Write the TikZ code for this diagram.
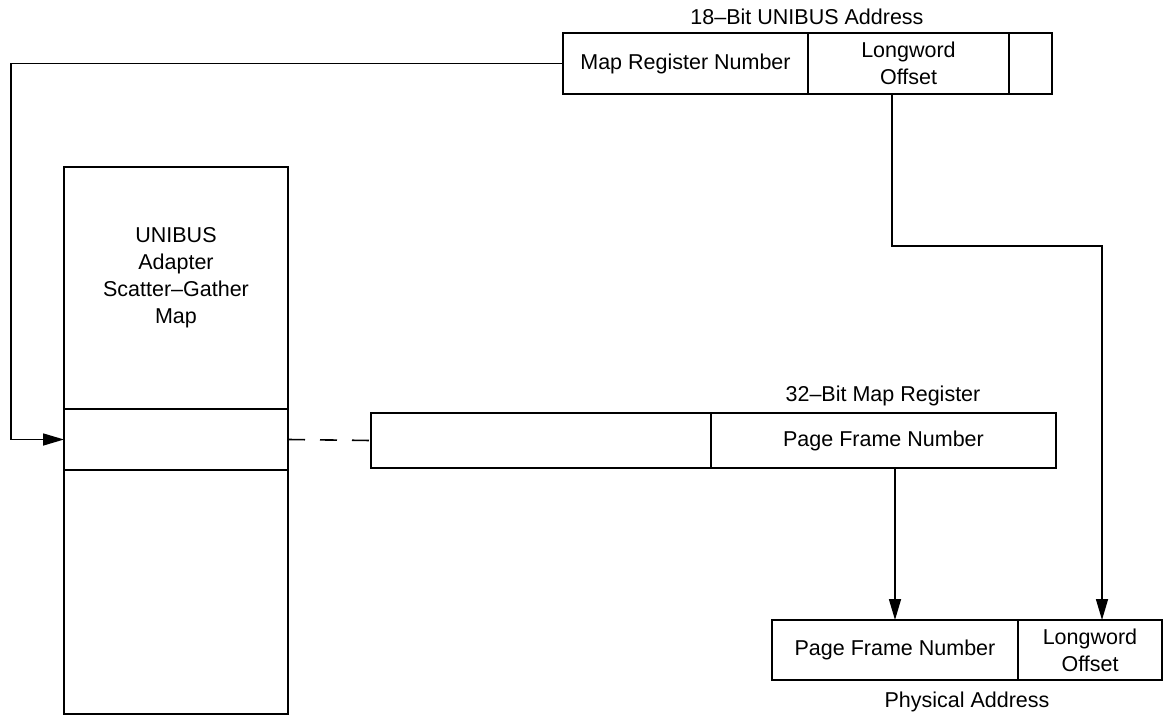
\documentclass[tikz,border=0pt]{standalone}
\usepackage{fontspec}
\setmainfont{Liberation Sans}
\usetikzlibrary{arrows.meta}
\begin{document}
\begin{tikzpicture}[x=1pt,y=-1pt,
  field/.style={draw, line width=1.6pt, inner sep=0pt, outer sep=0pt, align=center, anchor=north west},
  lbl/.style={inner sep=0pt, align=center},
  conn/.style={line width=1.6pt},
  arr/.style={conn, -{Triangle[length=21pt,width=12pt]}},
  every node/.append style={font=\fontsize{21.5}{27}\selectfont}]
\useasboundingbox (0,0) rectangle (1176,717);
% 18-bit UNIBUS address
\node[field, minimum width=245pt, minimum height=61pt] (mrn) at (563,33) {Map Register Number};
\node[field, minimum width=201pt, minimum height=61pt] (lwo) at (808,33) {Longword\\Offset};
\node[field, minimum width=43pt, minimum height=61pt] (tr3) at (1009,33) {};
\node[lbl] (t18) at (807,17) {18–Bit UNIBUS Address};
% scatter-gather map
\node[field, minimum width=224pt, minimum height=242pt] (sgtop) at (64,167) {};
\node[field, minimum width=224pt, minimum height=61pt] (sgent) at (64,409) {};
\node[field, minimum width=224pt, minimum height=244pt] (sgbot) at (64,470) {};
\node[lbl] (sglabel) at (176,278) {UNIBUS\\Adapter\\Scatter–Gather\\Map};
% 32-bit map register
\node[field, minimum width=340pt, minimum height=55pt] (mr1) at (371,413) {};
\node[field, minimum width=345pt, minimum height=55pt] (mr2) at (711,413) {Page Frame Number};
\node[lbl] (t32) at (883,396) {32–Bit Map Register};
% physical address
\node[field, minimum width=246pt, minimum height=60pt] (pa1) at (772,620) {Page Frame Number};
\node[field, minimum width=144pt, minimum height=60pt] (pa2) at (1018,620) {Longword\\Offset};
\node[lbl] (tpa) at (967,702) {Physical Address};
% connectors
\coordinate (lft) at (11,250);
\draw[arr] (mrn.west) -| (lft) |- (sgent.west);
\draw[conn, dash pattern=on 17pt off 15pt] (sgent.east) -- (mr1.west);
\draw[arr] (pa1.north |- mr2.south) -- (pa1.north);
\coordinate (j1) at (892,246);
\coordinate (j2) at (1102,246);
\draw[arr] (j1 |- lwo.south) -- (j1) -- (j2) -- (j2 |- pa2.north);
\end{tikzpicture}
\end{document}
